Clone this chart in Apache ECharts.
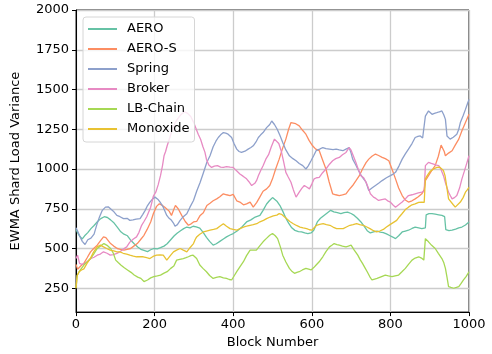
<!DOCTYPE html>
<html>
<head>
<meta charset="utf-8">
<script src="https://cdn.jsdelivr.net/npm/echarts@6/dist/echarts.min.js"></script>
<style>
  html, body { margin: 0; padding: 0; background: #fff; }
  #main { width: 492px; height: 354px; }
</style>
</head>
<body>
<div id="main"></div>
<script>
// [block, variance]
var aero = [[0,620],[4,600],[10,575],[16,560],[22,580],[30,600],[38,625],[46,645],[55,670],[63,688],[72,700],[80,695],[88,680],[97,660],[105,635],[114,605],[122,590],[131,580],[140,550],[148,530],[157,510],[165,495],[173,488],[182,480],[190,492],[198,500],[207,498],[215,505],[224,515],[232,530],[241,555],[250,580],[258,598],[266,612],[274,625],[282,635],[290,630],[298,640],[306,636],[315,628],[324,600],[332,570],[340,545],[349,521],[357,530],[366,545],[375,560],[383,573],[392,585],[400,594],[410,610],[420,630],[434,667],[445,680],[456,698],[468,708],[476,740],[485,780],[492,800],[500,820],[505,812],[512,795],[519,770],[526,735],[534,690],[541,660],[549,630],[557,614],[566,606],[574,604],[582,598],[590,594],[598,598],[605,615],[614,667],[622,690],[631,708],[640,725],[648,740],[656,730],[665,725],[674,719],[682,725],[691,729],[700,720],[708,708],[716,690],[725,667],[733,640],[741,612],[749,598],[757,604],[766,610],[774,603],[782,600],[790,592],[798,582],[806,572],[813,562],[821,580],[830,604],[838,610],[846,615],[855,626],[863,635],[872,630],[880,625],[889,630],[891,712],[898,719],[906,719],[914,716],[923,712],[931,708],[938,700],[941,618],[949,612],[957,615],[966,622],[974,630],[982,635],[991,648],[1000,667]];

var aeroS = [[0,400],[4,370],[8,375],[14,395],[20,406],[28,440],[37,479],[45,500],[54,521],[62,548],[70,573],[76,568],[80,562],[88,531],[96,515],[105,500],[113,495],[122,490],[130,494],[139,500],[147,515],[156,531],[164,555],[173,583],[181,620],[190,667],[197,720],[205,765],[212,781],[220,771],[226,760],[231,760],[237,735],[243,708],[248,740],[253,771],[260,750],[269,708],[278,670],[286,646],[293,655],[299,667],[307,670],[316,708],[324,725],[333,771],[341,785],[349,800],[358,812],[366,825],[375,844],[383,838],[392,833],[400,840],[409,800],[417,792],[426,775],[434,781],[443,792],[451,760],[460,790],[468,825],[476,860],[485,875],[493,896],[500,938],[508,1000],[517,1062],[525,1125],[534,1188],[541,1250],[547,1292],[551,1302],[559,1285],[568,1271],[576,1245],[585,1219],[593,1180],[602,1146],[610,1125],[619,1115],[627,1060],[636,1000],[644,920],[653,844],[661,838],[670,833],[678,838],[687,844],[695,870],[704,896],[712,925],[721,958],[729,1000],[738,1040],[745,1062],[753,1080],[762,1094],[770,1085],[779,1073],[787,1065],[796,1052],[804,1000],[813,938],[821,880],[830,833],[838,805],[846,792],[855,800],[863,812],[871,825],[880,844],[886,870],[889,927],[897,958],[905,990],[914,1021],[922,1080],[929,1150],[933,1160],[937,1110],[940,1083],[948,1100],[957,1115],[965,1150],[974,1188],[982,1240],[991,1292],[1000,1344]];

var spring = [[0,630],[4,610],[10,575],[16,545],[23,525],[30,555],[38,565],[46,590],[53,650],[60,700],[67,740],[75,760],[82,762],[87,760],[95,735],[104,708],[112,700],[121,688],[130,690],[137,677],[145,680],[153,685],[163,688],[170,715],[176,740],[182,770],[188,792],[195,812],[201,823],[208,810],[214,792],[222,760],[231,708],[237,690],[243,677],[248,660],[252,640],[258,650],[265,677],[273,700],[282,719],[290,760],[299,802],[307,860],[316,917],[324,975],[333,1042],[341,1083],[349,1140],[356,1175],[362,1198],[368,1215],[375,1229],[381,1225],[387,1219],[396,1198],[402,1160],[409,1125],[415,1110],[421,1104],[430,1112],[438,1125],[445,1135],[451,1146],[458,1170],[464,1198],[470,1215],[476,1229],[485,1260],[493,1280],[498,1302],[505,1280],[512,1250],[519,1210],[526,1167],[534,1120],[543,1083],[552,1065],[560,1052],[568,1035],[577,1021],[585,1000],[591,1020],[598,1052],[605,1085],[611,1115],[620,1125],[628,1135],[636,1128],[645,1125],[654,1122],[662,1125],[670,1120],[679,1115],[687,1125],[695,1135],[700,1100],[704,1062],[711,1030],[717,1000],[723,970],[729,948],[738,917],[745,865],[753,880],[762,896],[770,910],[779,927],[790,945],[800,958],[807,968],[813,979],[822,1020],[830,1062],[838,1095],[846,1125],[855,1160],[863,1198],[870,1205],[876,1208],[882,1195],[886,1188],[889,1333],[897,1365],[906,1344],[912,1350],[918,1354],[925,1360],[931,1365],[936,1340],[940,1312],[944,1208],[952,1188],[960,1200],[969,1219],[974,1250],[978,1292],[985,1335],[991,1375],[996,1410],[1000,1438]];

var broker = [[0,437],[4,458],[9,406],[15,400],[22,406],[30,420],[38,437],[46,445],[54,458],[62,465],[70,479],[79,470],[87,458],[95,462],[104,469],[112,480],[120,495],[129,510],[137,540],[146,560],[154,573],[160,600],[167,646],[173,670],[180,700],[190,760],[197,830],[203,854],[209,900],[215,958],[220,1020],[224,1083],[228,1110],[232,1146],[239,1200],[245,1250],[252,1290],[260,1320],[268,1345],[276,1360],[284,1350],[292,1330],[300,1290],[306,1250],[311,1219],[317,1187],[323,1140],[328,1106],[332,1060],[338,1025],[345,1010],[352,1018],[360,1021],[368,1012],[375,1010],[383,1015],[392,1012],[400,1010],[408,990],[417,969],[425,955],[434,938],[440,920],[447,896],[455,910],[460,930],[464,958],[470,990],[476,1021],[483,1062],[490,1090],[497,1140],[505,1188],[510,1180],[516,1160],[522,1115],[528,1050],[534,979],[540,950],[547,917],[553,870],[560,823],[564,835],[568,854],[575,880],[581,896],[588,885],[594,875],[600,905],[606,938],[612,945],[619,948],[627,975],[636,1000],[645,1030],[653,1052],[661,1065],[670,1073],[678,1090],[687,1104],[695,1135],[700,1118],[704,1115],[712,1042],[718,1000],[725,958],[732,945],[738,917],[744,880],[749,844],[757,823],[763,815],[770,802],[778,808],[787,812],[793,800],[800,792],[806,775],[813,760],[821,775],[830,792],[838,812],[846,833],[855,838],[863,844],[871,850],[880,854],[886,860],[889,1021],[897,1042],[904,1035],[910,1031],[917,1025],[923,1021],[929,995],[935,958],[941,905],[948,854],[953,830],[957,812],[963,820],[969,833],[976,880],[982,938],[988,985],[995,1042],[1000,1083]];

var lbChain = [[0,250],[3,330],[8,354],[14,375],[20,396],[28,415],[37,437],[45,465],[54,500],[62,515],[71,531],[79,520],[88,500],[95,470],[101,427],[108,410],[114,396],[122,380],[131,365],[140,350],[148,333],[157,320],[165,312],[173,292],[182,302],[190,315],[198,323],[207,328],[215,333],[224,345],[232,354],[241,375],[249,390],[256,427],[264,432],[273,437],[280,442],[286,448],[292,455],[298,458],[303,450],[307,437],[315,396],[323,375],[332,354],[340,330],[349,312],[357,318],[366,323],[375,315],[383,312],[390,305],[396,302],[403,330],[409,354],[417,385],[426,417],[434,455],[443,490],[451,490],[459,490],[467,515],[476,542],[484,562],[493,583],[500,594],[507,580],[513,562],[520,510],[526,458],[534,415],[543,375],[550,355],[556,344],[562,350],[568,354],[576,365],[585,375],[592,370],[598,365],[605,380],[611,396],[620,420],[628,448],[636,480],[645,510],[651,520],[657,531],[664,525],[670,521],[678,515],[687,510],[693,515],[700,521],[708,490],[717,458],[723,430],[729,406],[735,380],[741,354],[747,325],[753,302],[760,308],[766,312],[776,322],[787,333],[795,328],[804,323],[812,328],[821,333],[830,355],[838,375],[846,400],[855,427],[863,440],[872,448],[879,440],[885,427],[889,562],[893,555],[897,542],[905,520],[914,500],[922,470],[931,437],[936,410],[940,375],[944,320],[948,260],[954,255],[961,250],[968,255],[974,260],[980,280],[986,302],[993,325],[1000,354]];

var monoxide = [[0,250],[3,330],[8,354],[14,365],[20,372],[28,406],[37,440],[45,479],[54,510],[62,521],[70,510],[78,500],[87,490],[96,485],[104,479],[112,479],[120,470],[129,465],[137,458],[146,452],[154,448],[163,448],[171,448],[180,442],[188,437],[196,450],[205,458],[214,460],[222,458],[231,427],[240,455],[248,479],[256,490],[265,500],[273,490],[282,479],[290,505],[299,531],[303,555],[307,573],[315,590],[324,604],[332,610],[341,615],[350,620],[358,625],[366,640],[375,656],[383,640],[392,625],[400,620],[409,615],[417,625],[426,635],[434,640],[443,646],[451,650],[460,656],[468,668],[477,677],[485,688],[494,698],[502,705],[511,710],[517,719],[523,715],[530,700],[536,688],[544,670],[553,656],[561,645],[570,635],[578,630],[587,625],[594,618],[600,615],[606,630],[612,646],[620,652],[629,656],[637,650],[646,646],[654,635],[663,625],[671,625],[680,625],[688,635],[697,646],[705,650],[714,656],[722,650],[731,646],[740,635],[748,625],[757,612],[765,604],[773,610],[782,620],[790,635],[799,650],[807,663],[816,677],[823,700],[830,720],[838,745],[846,760],[855,775],[863,781],[872,790],[880,792],[886,790],[889,938],[894,960],[901,985],[910,1000],[918,1010],[925,1012],[930,1010],[935,990],[939,958],[943,896],[948,812],[952,800],[960,775],[965,760],[970,765],[978,792],[985,820],[991,854],[996,870],[1000,885]];

var names = ['AERO', 'AERO-S', 'Spring', 'Broker', 'LB-Chain', 'Monoxide'];
var colors = ['#66c2a5', '#fc8d62', '#8da0cb', '#e78ac3', '#a6d854', '#e8c232'];
var yTicks = [250, 500, 750, 1000, 1250, 1500, 1750, 2000];

var font = 'DejaVu Sans';
var allData = [aero, aeroS, spring, broker, lbChain, monoxide];

var chart = echarts.init(document.getElementById('main'));

// plain numbers, no thousands separator
function plain(v) { return String(v); }

var series = [];
for (var i = 0; i < names.length; i++) {
    series.push({
        name: names[i],
        type: 'line',
        data: allData[i],
        showSymbol: false,
        lineStyle: { width: 1.3, color: colors[i] },
        itemStyle: { color: colors[i] }
    });
}

var option = {
    animation: false,
    color: colors,
    grid: {
        left: 76, right: 23, top: 10, bottom: 40,
        show: true, borderColor: '#000', borderWidth: 1, backgroundColor: 'transparent'
    },
    legend: {
        orient: 'vertical',
        left: 83, top: 17,
        padding: [5, 5, 6, 5],
        itemGap: 6,
        itemWidth: 29,
        itemHeight: 2,
        icon: 'rect',
        backgroundColor: 'rgba(255,255,255,0.8)',
        borderColor: '#d6d6d6',
        borderWidth: 1,
        borderRadius: 3,
        textStyle: { fontFamily: font, fontSize: 13, color: '#000', padding: [0, 0, 0, 5], lineHeight: 14 },
        data: names
    },
    xAxis: {
        type: 'value',
        min: 0, max: 1000, interval: 200,
        name: 'Block Number',
        nameLocation: 'middle',
        nameGap: 22,
        nameTextStyle: { fontFamily: font, fontSize: 13, color: '#000' },
        axisLine: { lineStyle: { color: '#000', width: 1 } },
        axisTick: { inside: false, length: 4, lineStyle: { color: '#000' } },
        axisLabel: { fontFamily: font, fontSize: 13, color: '#000', margin: 6, formatter: plain },
        splitLine: { show: true, lineStyle: { color: '#cccccc', width: 1.3 } }
    },
    yAxis: {
        type: 'value',
        min: 100, max: 2000,
        name: 'EWMA Shard Load Variance',
        nameLocation: 'middle',
        nameGap: 54,
        nameTextStyle: { fontFamily: font, fontSize: 13, color: '#000' },
        axisLine: { show: true, lineStyle: { color: '#000', width: 1 } },
        axisTick: { show: true, inside: false, length: 4, lineStyle: { color: '#000' }, customValues: yTicks },
        axisLabel: { fontFamily: font, fontSize: 13, color: '#000', margin: 7, customValues: yTicks, formatter: plain },
        splitLine: { show: true, lineStyle: { color: '#cccccc', width: 1.3 } }
    },
    series: series
};

chart.setOption(option);
</script>
</body>
</html>
